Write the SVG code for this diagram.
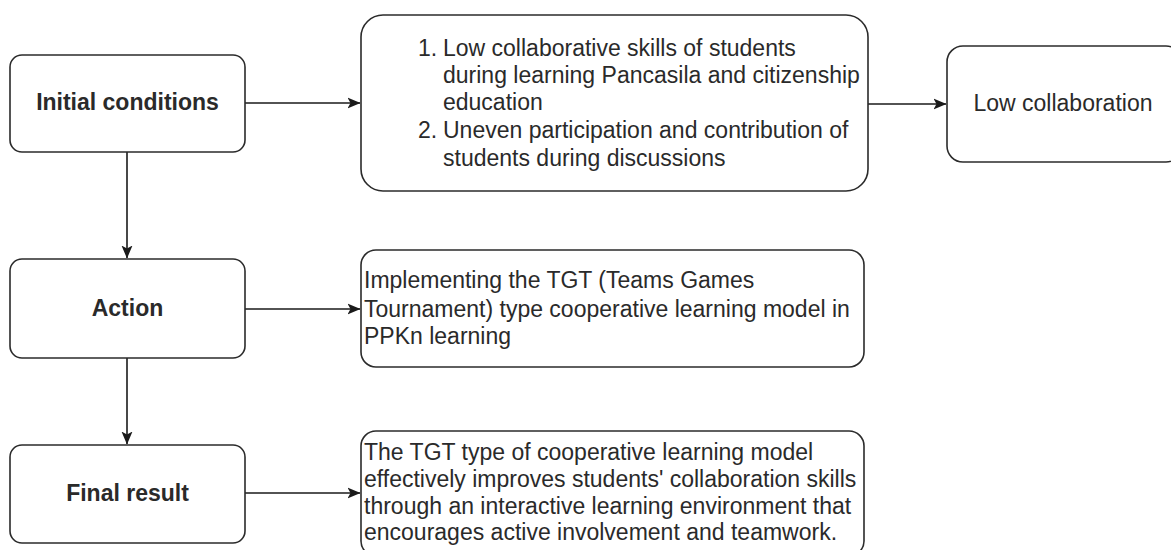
<svg xmlns="http://www.w3.org/2000/svg" width="1171" height="550" viewBox="0 0 1171 550">
  <style>
    .box { fill: #ffffff; stroke: #2b2b2b; stroke-width: 1.6; }
    .lbl { font-family: "Liberation Sans", Arial, sans-serif; font-size: 23px; fill: #2a2a2a; }
    .bold { font-weight: bold; }
    .mid { text-anchor: middle; }
    .edge { fill: none; stroke: #1a1a1a; stroke-width: 1.6; }
  </style>
  <defs>
    <marker id="arrow" viewBox="0 0 13 12" refX="12.5" refY="6" markerWidth="13" markerHeight="12" markerUnits="userSpaceOnUse" orient="auto">
      <path d="M0,0.5 L13,6 L0,11.5 L3,6 Z" fill="#1a1a1a"/>
    </marker>
  </defs>

  <!-- connectors -->
  <g id="connectors">
    <path class="edge" d="M245,103 L360,103" marker-end="url(#arrow)"/>
    <path class="edge" d="M868,104 L946,104" marker-end="url(#arrow)"/>
    <path class="edge" d="M127,152 L127,258" marker-end="url(#arrow)"/>
    <path class="edge" d="M245,309 L360,309" marker-end="url(#arrow)"/>
    <path class="edge" d="M127,358 L127,444" marker-end="url(#arrow)"/>
    <path class="edge" d="M245,493 L360,493" marker-end="url(#arrow)"/>
  </g>

  <!-- left column -->
  <g id="initial-conditions">
    <rect class="box" x="10" y="55" width="235" height="97" rx="12"/>
    <text class="lbl bold mid" x="127.5" y="110">Initial conditions</text>
  </g>
  <g id="action">
    <rect class="box" x="10" y="259" width="235" height="99" rx="12"/>
    <text class="lbl bold mid" x="127.5" y="316">Action</text>
  </g>
  <g id="final-result">
    <rect class="box" x="10" y="445" width="235" height="98" rx="12"/>
    <text class="lbl bold mid" x="127.5" y="501">Final result</text>
  </g>

  <!-- problems list -->
  <g id="problems">
    <rect class="box" x="361" y="15" width="507" height="176" rx="22"/>
    <text class="lbl" x="418" y="56">1.</text>
    <text class="lbl" x="443" y="56">Low collaborative skills of students</text>
    <text class="lbl" x="443" y="83">during learning Pancasila and citizenship</text>
    <text class="lbl" x="443" y="110">education</text>
    <text class="lbl" x="418" y="138">2.</text>
    <text class="lbl" x="443" y="138">Uneven participation and contribution of</text>
    <text class="lbl" x="443" y="166">students during discussions</text>
  </g>

  <g id="low-collaboration">
    <rect class="box" x="947" y="46" width="235" height="116" rx="16"/>
    <text class="lbl mid" x="1063" y="111">Low collaboration</text>
  </g>

  <g id="tgt-action">
    <rect class="box" x="361" y="250" width="503" height="117" rx="15"/>
    <text class="lbl" x="364" y="288">Implementing the TGT (Teams Games</text>
    <text class="lbl" x="364" y="317">Tournament) type cooperative learning model in</text>
    <text class="lbl" x="364" y="344">PPKn learning</text>
  </g>

  <g id="tgt-result">
    <rect class="box" x="361" y="431" width="503" height="125" rx="15"/>
    <text class="lbl" x="364" y="460">The TGT type of cooperative learning model</text>
    <text class="lbl" x="364" y="487">effectively improves students' collaboration skills</text>
    <text class="lbl" x="364" y="514">through an interactive learning environment that</text>
    <text class="lbl" x="364" y="540">encourages active involvement and teamwork.</text>
  </g>
</svg>
